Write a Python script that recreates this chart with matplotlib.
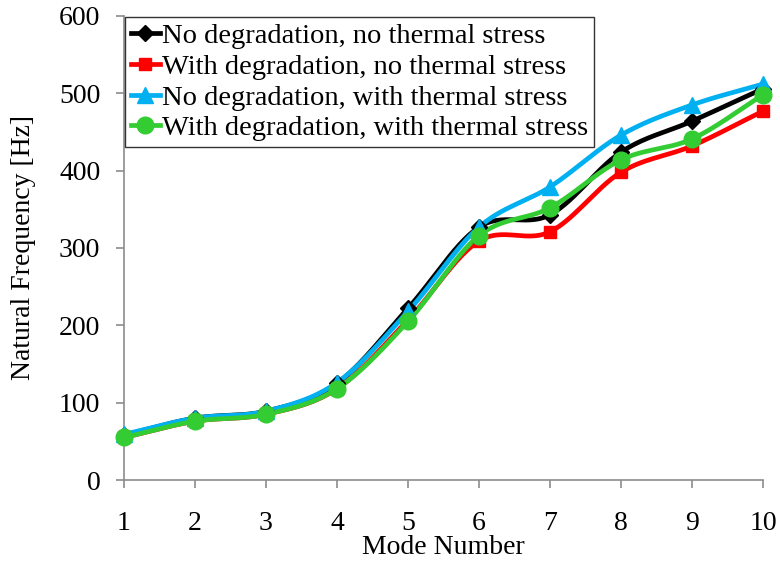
import numpy as np
import matplotlib
matplotlib.use("Agg")
import matplotlib.pyplot as plt

plt.rcParams['font.family'] = ['Liberation Serif', 'DejaVu Serif']

modes = [1, 2, 3, 4, 5, 6, 7, 8, 9, 10]
no_deg_no_th = [58, 80, 89, 125, 222, 327, 343, 424, 464, 506]
deg_no_th = [55, 76, 85, 118, 207, 309, 321, 398, 432, 477]
no_deg_th = [59, 80, 89, 126, 218, 327, 379, 446, 485, 512]
deg_th = [55, 76, 85, 118, 205, 316, 352, 414, 441, 498]

labels = ["No degradation, no thermal stress",
          "With degradation, no thermal stress",
          "No degradation, with thermal stress",
          "With degradation, with thermal stress"]
colors = ["#000000", "#FF0000", "#00B0F0", "#33CC33"]
markers = ["D", "s", "^", "o"]
msizes = [8, 9, 11, 12]


def smooth(x, y, n=30):
    x = np.asarray(x, float)
    y = np.asarray(y, float)
    px = np.concatenate([[2 * x[0] - x[1]], x, [2 * x[-1] - x[-2]]])
    py = np.concatenate([[2 * y[0] - y[1]], y, [2 * y[-1] - y[-2]]])
    xs, ys = [], []
    t = np.linspace(0, 1, n)
    for i in range(1, len(px) - 2):
        for P, out in ((px, xs), (py, ys)):
            p0, p1, p2, p3 = P[i - 1], P[i], P[i + 1], P[i + 2]
            out.append(0.5 * ((2 * p1) + (-p0 + p2) * t +
                              (2 * p0 - 5 * p1 + 4 * p2 - p3) * t ** 2 +
                              (-p0 + 3 * p1 - 3 * p2 + p3) * t ** 3))
    return np.concatenate(xs), np.concatenate(ys)


fig = plt.figure(figsize=(7.8, 5.63), dpi=100)
ax = fig.add_axes([124 / 780, 1 - 480 / 563, (763 - 124) / 780, (480 - 16) / 563])

FS = 20
series = [no_deg_no_th, deg_no_th, no_deg_th, deg_th]
for ys, c, m, ms, lab in zip(series, colors, markers, msizes, labels):
    sx, sy = smooth(modes, ys)
    ax.plot(sx, sy, color=c, lw=3.4, solid_capstyle='round', zorder=3, clip_on=False)
    ax.plot(modes, ys, ls='none', marker=m, color=c, ms=ms, zorder=4, clip_on=False)
    ax.plot([], [], color=c, lw=3.4, marker=m, ms=ms, label=lab)

ax.set_xlim(1, 10)
ax.set_ylim(0, 600)
ax.set_xticks(modes)
ax.set_yticks(range(0, 601, 100))
for s in ['top', 'right']:
    ax.spines[s].set_visible(False)
for s in ['left', 'bottom']:
    ax.spines[s].set_color('#8c8c8c')
    ax.spines[s].set_linewidth(1.2)
ax.tick_params(axis='both', colors='#8c8c8c', labelcolor='black', labelsize=FS,
               length=6, width=1.2, direction='out')
ax.tick_params(axis='y', pad=11)
ax.tick_params(axis='x', pad=16)
ax.set_xlabel("Mode Number", fontsize=FS)
ax.set_ylabel("Natural Frequency [Hz]", fontsize=FS)
ax.xaxis.set_label_coords(0.5, -0.118)
ax.yaxis.set_label_coords(-0.137, 0.5)

leg = ax.legend(loc='upper left', bbox_to_anchor=(0.0, 1.0), fontsize=20.5,
                frameon=True, fancybox=False, edgecolor='black', handlelength=1.0,
                handletextpad=0.08, borderpad=0.2, labelspacing=0.17,
                borderaxespad=0.05)
leg.get_frame().set_linewidth(1.0)

fig.savefig("out.png", dpi=100)
